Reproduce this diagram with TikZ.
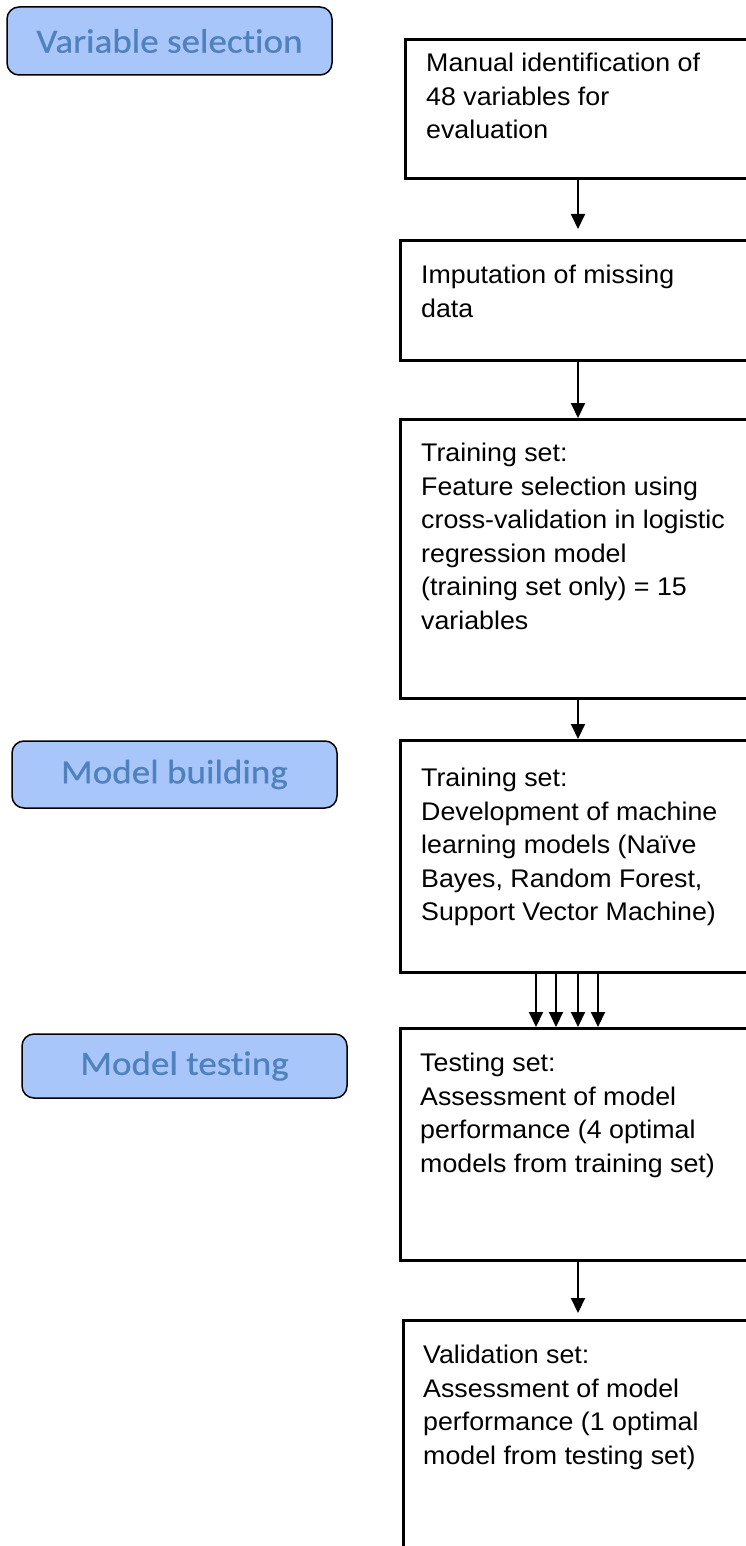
\documentclass[tikz,border=0pt]{standalone}
\usepackage{fontspec}
\setmainfont{Liberation Sans}[FakeStretch=1.05]
\newfontfamily\labelfont{Carlito}[FakeStretch=1.09,FakeBold=0.6,Ligatures=NoCommon]
\usetikzlibrary{arrows.meta,calc}
\definecolor{stagefill}{RGB}{168,198,250}
\definecolor{stagetext}{RGB}{79,129,189}
\tikzset{
  stepbox/.style={draw=black, line width=2.6pt, rectangle, inner sep=0pt,
    minimum width=420pt, anchor=north west},
  steptext/.style={anchor=north west, inner sep=0pt, align=left,
    font={\fontsize{25.5}{33.5}\selectfont}},
  stage/.style={draw=black, line width=1.5pt, fill=stagefill, rounded corners=12pt,
    minimum width=325pt, text=stagetext, inner sep=0pt,
    font={\labelfont\fontsize{34}{38}\selectfont}},
  flow/.style={line width=2pt, -{Triangle[length=15pt,width=14pt]}},
}
\begin{document}
\begin{tikzpicture}[x=1pt,y=-1pt]
\useasboundingbox (0,0) rectangle (746,1546);
\clip (0,0) rectangle (746,1546);

% stage labels on the left
\node[stage, minimum height=68pt] (vs) at (169.5,41) {Variable selection};
\node[stage, minimum height=67pt] (mb) at (174.5,774.5) {Model building};
\node[stage, minimum height=64pt] (mt) at (184.5,1066) {Model testing};

% process boxes on the right (they run past the right edge)
\node[stepbox, minimum height=139pt] (b1) at (404,38) {};
\node[stepbox, minimum height=120pt] (b2) at (399,239) {};
\node[stepbox, minimum height=279pt] (b3) at (399,418) {};
\node[stepbox, minimum height=232pt] (b4) at (399,739) {};
\node[stepbox, minimum height=232pt] (b5) at (399,1027) {};
\node[stepbox, minimum height=300pt] (b6) at (402,1319) {};

% box texts
\node[steptext] (t1) at ($(b1.north west)+(22,15)$) {Manual identification of\\48 variables for\\evaluation};
\node[steptext] (t2) at ($(b2.north west)+(22,26)$) {Imputation of missing\\data};
\node[steptext] (t3) at ($(b3.north west)+(22,25)$) {Training set:\\Feature selection using\\cross-validation in logistic\\regression model\\(training set only) = 15\\variables};
\node[steptext] (t4) at ($(b4.north west)+(22,29)$) {Training set:\\Development of machine\\learning models (Na\"ive\\Bayes, Random Forest,\\Support Vector Machine)};
\node[steptext] (t5) at ($(b5.north west)+(21,26)$) {Testing set:\\Assessment of model\\performance (4 optimal\\models from training set)};
\node[steptext] (t6) at ($(b6.north west)+(21,26)$) {Validation set:\\Assessment of model\\performance (1 optimal\\model from testing set)};

% connectors
\draw[flow, shorten >=10pt] ($(b1.south west)+(174,0)$) -- ($(b2.north west)+(179,0)$);
\draw[flow] ($(b2.south west)+(179,0)$) -- ($(b3.north west)+(179,0)$);
\draw[flow] ($(b3.south west)+(179,0)$) -- ($(b4.north west)+(179,0)$);
\foreach \dx in {137,157,179,199}
  \draw[flow] ($(b4.south west)+(\dx,0)$) -- ($(b5.north west)+(\dx,0)$);
\draw[flow, shorten >=6pt] ($(b5.south west)+(179,0)$) -- ($(b6.north west)+(176,0)$);
\end{tikzpicture}
\end{document}
